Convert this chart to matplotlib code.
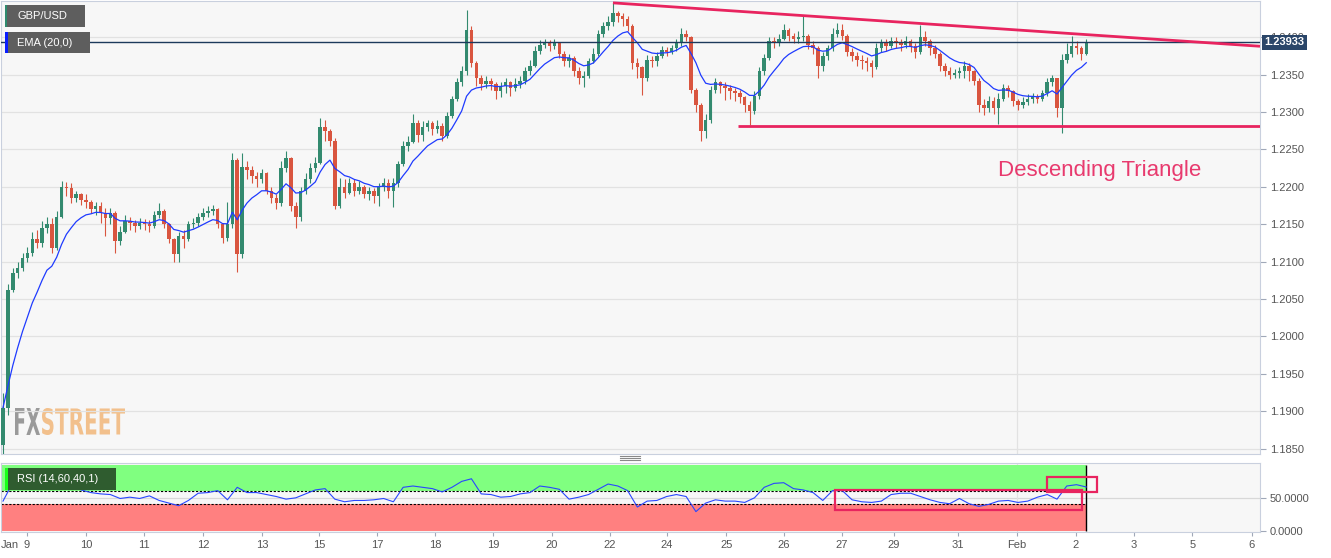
import numpy as np
import pandas as pd
import matplotlib
matplotlib.use('Agg')
import matplotlib.pyplot as plt
from matplotlib.patches import Rectangle, PathPatch
from matplotlib.lines import Line2D
from matplotlib.textpath import TextPath
from matplotlib.font_manager import FontProperties
from matplotlib.transforms import Affine2D, IdentityTransform

plt.rcParams['font.family'] = ['Liberation Sans', 'DejaVu Sans']

# GBP/USD 2-hour bars, prices in pips above 1.2000 (open = previous close)
first_open = -145
close = [-95, 62, 85, 92, 105, 112, 130, 125, 145, 150, 118, 160, 200, 198, 185, 190, 182, 180, 170, 175,
         165, 158, 165, 128, 140, 155, 152, 148, 152, 150, 148, 162, 168, 150, 130, 110, 135, 130, 150, 152,
         160, 165, 168, 170, 150, 132, 150, 236, 110, 226, 222, 215, 210, 218, 195, 185, 178, 225, 238, 175,
         160, 195, 210, 225, 232, 280, 275, 262, 175, 200, 192, 205, 195, 200, 190, 195, 188, 200, 205, 195,
         205, 230, 255, 260, 285, 270, 280, 285, 278, 282, 268, 295, 318, 340, 355, 410, 366, 345, 338, 342,
         338, 328, 335, 340, 332, 338, 342, 355, 362, 382, 390, 392, 388, 392, 378, 368, 372, 355, 345, 348,
         368, 378, 405, 415, 420, 432, 428, 425, 415, 365, 360, 345, 370, 368, 375, 383, 380, 386, 392, 405,
         400, 330, 310, 275, 290, 330, 340, 335, 332, 328, 325, 320, 310, 302, 322, 355, 372, 395, 392, 398,
         410, 402, 398, 400, 402, 390, 385, 362, 375, 385, 405, 410, 402, 380, 375, 370, 368, 365, 360, 385,
         392, 388, 395, 392, 390, 395, 388, 380, 400, 395, 385, 378, 362, 355, 350, 352, 355, 362, 355, 342,
         310, 305, 315, 305, 318, 332, 328, 315, 310, 314, 318, 320, 318, 326, 340, 345, 305, 370, 378, 388,
         385, 378, 393.3]
high = [-75, 70, 92, 100, 112, 120, 140, 142, 155, 160, 158, 168, 208, 206, 205, 195, 192, 190, 182, 180,
        180, 172, 172, 168, 148, 162, 160, 156, 158, 157, 156, 168, 178, 170, 152, 132, 140, 142, 155, 158,
        165, 172, 175, 176, 172, 152, 180, 245, 238, 245, 235, 228, 220, 224, 220, 200, 190, 235, 248, 240,
        180, 200, 218, 232, 240, 292, 290, 278, 265, 212, 210, 212, 210, 208, 202, 200, 198, 205, 212, 210,
        212, 235, 262, 268, 298, 290, 288, 290, 288, 290, 285, 300, 322, 345, 362, 436, 415, 368, 350, 348,
        346, 340, 340, 345, 342, 345, 348, 360, 370, 388, 396, 398, 396, 398, 394, 382, 378, 375, 360, 355,
        372, 385, 410, 420, 428, 446, 435, 432, 428, 418, 372, 362, 376, 375, 380, 388, 387, 390, 398, 412,
        410, 402, 332, 312, 298, 335, 345, 342, 340, 336, 332, 330, 322, 315, 328, 360, 378, 400, 400, 404,
        418, 412, 406, 408, 428, 405, 395, 388, 380, 390, 412, 419, 418, 405, 385, 380, 376, 374, 370, 392,
        398, 398, 400, 400, 398, 402, 398, 392, 416, 408, 398, 390, 380, 366, 360, 358, 360, 368, 366, 356,
        345, 318, 322, 320, 325, 338, 336, 330, 318, 320, 324, 326, 324, 330, 346, 350, 346, 378, 392, 402,
        395, 388, 398]
low = [-158, -105, 60, 78, 88, 100, 108, 118, 120, 138, 112, 115, 158, 188, 178, 180, 176, 172, 165, 162,
       152, 135, 150, 112, 122, 138, 142, 140, 144, 142, 140, 145, 158, 145, 125, 100, 100, 118, 128, 145,
       148, 156, 160, 162, 145, 125, 128, 145, 86, 105, 210, 205, 200, 205, 190, 178, 170, 175, 220, 168,
       145, 155, 190, 205, 220, 230, 262, 255, 170, 172, 185, 190, 188, 190, 185, 182, 178, 175, 195, 185,
       173, 200, 228, 248, 258, 260, 262, 275, 270, 272, 262, 265, 292, 315, 335, 350, 360, 335, 330, 332,
       330, 318, 320, 326, 322, 328, 332, 338, 350, 360, 378, 385, 382, 384, 372, 362, 360, 348, 338, 333,
       345, 365, 375, 400, 410, 415, 420, 415, 408, 358, 345, 323, 342, 360, 362, 372, 375, 378, 382, 388,
       395, 325, 300, 262, 265, 285, 325, 326, 316, 318, 315, 312, 300, 283, 298, 318, 350, 370, 385, 388,
       396, 395, 392, 393, 395, 384, 378, 345, 355, 370, 382, 400, 396, 375, 368, 362, 358, 355, 347, 358,
       380, 382, 385, 386, 382, 385, 380, 372, 378, 388, 376, 372, 355, 348, 344, 345, 346, 345, 342, 336,
       300, 296, 300, 298, 284, 315, 320, 308, 303, 306, 310, 312, 312, 315, 322, 335, 293, 272, 366, 374,
       378, 370, 376]

# RSI (14) read every second bar
rsi = [45, 73, 73, 71, 72, 63, 72, 71, 62, 58, 56, 55, 49, 51, 49, 53, 46, 42, 38, 46,
       57, 58, 61, 47, 66, 58, 58, 55, 52, 48, 50, 56, 62, 64, 48, 44, 46, 46, 47, 49,
       44, 66, 68, 66, 64, 59, 66, 75, 79, 56, 55, 51, 52, 56, 58, 68, 66, 63, 48, 51,
       55, 63, 71, 68, 61, 36, 45, 46, 52, 55, 52, 29, 42, 47, 45, 45, 43, 50, 66, 72,
       73, 64, 62, 58, 46, 61, 61, 47, 44, 43, 45, 55, 57, 57, 52, 47, 43, 41, 49, 41,
       37, 40, 45, 46, 43, 45, 51, 55, 48, 68, 70, 66.5]

day_ticks = [4.9, 17.0, 28.9, 41.0, 53.1, 64.8, 76.6, 88.5, 100.4, 112.5, 124.4, 136.1,
             148.2, 160.0, 171.9, 182.6, 195.7, 207.8, 219.9, 231.8, 243.7, 255.9]
day_labels = ['9', '10', '11', '12', '13', '15', '17', '18', '19', '20', '22', '24',
              '25', '26', '27', '29', '31', 'Feb', '2', '3', '5', '6']

# descending triangle annotation (bar index, price)
resist_x = [125, 257.6]
resist_y = [1.2446, 1.2388]
support_x = [150.6, 257.6]
support_y = [1.2281, 1.2281]
rsi_box1 = (170.5, 32, 50.6, 29.7)
rsi_box2 = (213.9, 59.3, 10.3, 23.1)

GREEN = '#338a6f'
RED = '#d9553f'
PINK = '#e8245f'
W, H = 1331, 558


def px_rect(x0, y0, x1, y1):
    # image pixels (top-left origin) -> figure fraction [l, b, w, h]
    return [x0 / W, 1 - y1 / H, (x1 - x0) / W, (y1 - y0) / H]


c = 1.2 + np.array(close) / 1e4
o = np.concatenate([[1.2 + first_open / 1e4], c[:-1]])
hi = 1.2 + np.array(high) / 1e4
lo = 1.2 + np.array(low) / 1e4
x = np.arange(len(c))
ema = pd.Series(c).ewm(span=10, adjust=False).mean()
last = c[-1]

fig = plt.figure(figsize=(13.31, 5.58), dpi=100)
fig.patch.set_facecolor('white')
ax = fig.add_axes(px_rect(1, 1, 1260, 454))
ax_rsi = fig.add_axes(px_rect(1, 463, 1260, 532), sharex=ax)

for a in (ax, ax_rsi):
    a.set_facecolor('#f7f7f7')
    for s in a.spines.values():
        s.set_color('#c9d0de')
    a.yaxis.tick_right()
    a.tick_params(axis='y', length=4, color='#a0a8b8', labelcolor='#555555', labelsize=8, pad=3)

# ---- price panel
ax.set_xlim(-0.41, 257.6)
ax.set_ylim(1.18429, 1.24485)
yt = np.round(np.arange(1.185, 1.2401, 0.005), 4)
ax.set_yticks(yt)
ax.set_yticklabels([f'{v:.4f}' for v in yt])
ax.grid(axis='y', color='#e2e2e2', lw=0.9, zorder=0)
ax.axvline(day_ticks[17], color='#e2e2e2', lw=0.9, zorder=0)
ax.tick_params(axis='x', bottom=False, labelbottom=False)

colors = np.where(c >= o, GREEN, RED)
ax.vlines(x, lo, hi, colors=colors, lw=0.8, zorder=3)
ax.bar(x, np.maximum(np.abs(c - o), 0.00003), bottom=np.minimum(o, c), width=0.72,
       color=colors, linewidth=0, zorder=4)
ax.plot(x, ema, color='#1f3bff', lw=0.9, zorder=5)
ax.axhline(last, color='#1d3a5c', lw=1, zorder=6)

ax.plot(resist_x, resist_y, color=PINK, lw=2, zorder=7, solid_capstyle='butt')
ax.plot(support_x, support_y, color=PINK, lw=2, zorder=7, solid_capstyle='butt')
ax.text(224.8, 1.2222, 'Descending Triangle', color='#e83a6e', fontsize=16,
        ha='center', va='center', zorder=8)

ax.text(1.0035, last, f'{last:.5f}', transform=ax.get_yaxis_transform(), ha='left', va='center',
        color='white', fontsize=8, fontweight='bold', zorder=10, clip_on=False,
        bbox=dict(boxstyle='square,pad=0.25', fc='#2a4669', ec='none'))

# watermark
def watermark(s, x0, x1, y0, y1, color):
    tp = TextPath((0, 0), s, size=1, prop=FontProperties(family='DejaVu Sans', weight='bold'))
    e = tp.get_extents()
    tr = Affine2D().translate(-e.x0, -e.y0).scale((x1 - x0) / e.width, (y1 - y0) / e.height)
    tr = tr.translate(x0, H - y1)
    ax.add_patch(PathPatch(tr.transform_path(tp), fc=color, ec='none',
                           transform=IdentityTransform(), zorder=1))

watermark('FX', 15, 40, 408, 435, '#9a9a9a')
watermark('STREET', 42, 125, 408, 435, '#f2c08c')

# ---- RSI panel
ax_rsi.set_ylim(-2, 103)
ax_rsi.set_yticks([0, 50])
ax_rsi.set_yticklabels(['0.0000', '50.0000'])
ax_rsi.axhline(50, color='#d8d8d8', lw=0.9, zorder=0)
ax_rsi.axvline(day_ticks[17], color='#e2e2e2', lw=0.9, zorder=0)
xb = [-0.41, x[-1]]
ax_rsi.fill_between(xb, 60, 100, color='#80ff80', lw=0, zorder=1)
ax_rsi.fill_between(xb, 0, 40, color='#ff8080', lw=0, zorder=1)
ax_rsi.hlines([40, 60], xb[0], xb[1], colors='black', linestyles=(0, (2, 1.5)), lw=0.8, zorder=2)
ax_rsi.vlines([x[-1]], 0, 100, colors='black', lw=1, zorder=2)
ax_rsi.plot(np.arange(0, len(c), 2), rsi, color='#2846ff', lw=0.8, zorder=4)
for bx in (rsi_box1, rsi_box2):
    ax_rsi.add_patch(Rectangle(bx[:2], bx[2], bx[3], fill=False, ec=PINK, lw=1.6, zorder=5))

ax_rsi.set_xticks(day_ticks)
ax_rsi.set_xticklabels(day_labels)
ax_rsi.tick_params(axis='x', length=3, color='#a0a8b8', labelcolor='#555555', labelsize=8, pad=3)
fig.text(1 / W, 1 - 545 / H, 'Jan', color='#555555', fontsize=8, ha='left', va='center')

# ---- legend boxes
def box(x0, y0, x1, y1, fc, bar_fc, bar_w, label):
    fig.add_artist(Rectangle(px_rect(x0, y0, x1, y1)[:2], (x1 - x0) / W, (y1 - y0) / H,
                             transform=fig.transFigure, fc=fc, ec='none', zorder=20))
    fig.add_artist(Rectangle(px_rect(x0, y0, x0 + bar_w, y1)[:2], bar_w / W, (y1 - y0) / H,
                             transform=fig.transFigure, fc=bar_fc, ec='none', zorder=21))
    fig.text((x0 + 12) / W, 1 - (y0 + y1) / 2 / H, label, color='white', fontsize=8,
             ha='left', va='center', zorder=22)

box(5, 5, 85, 27, '#5e5e5e', '#2e8a6e', 2, 'GBP/USD')
box(5, 32, 90, 53, '#5e5e5e', '#0a1eff', 3, 'EMA (20,0)')
box(5, 468, 116, 490, '#2f5c2f', '#1aff1a', 3, 'RSI (14,60,40,1)')

# panel splitter handle
for yy in (456, 458, 460):
    fig.add_artist(Line2D([620 / W, 640 / W], [1 - yy / H] * 2, color='#888888', lw=0.8))

fig.savefig('out.png', dpi=100)
